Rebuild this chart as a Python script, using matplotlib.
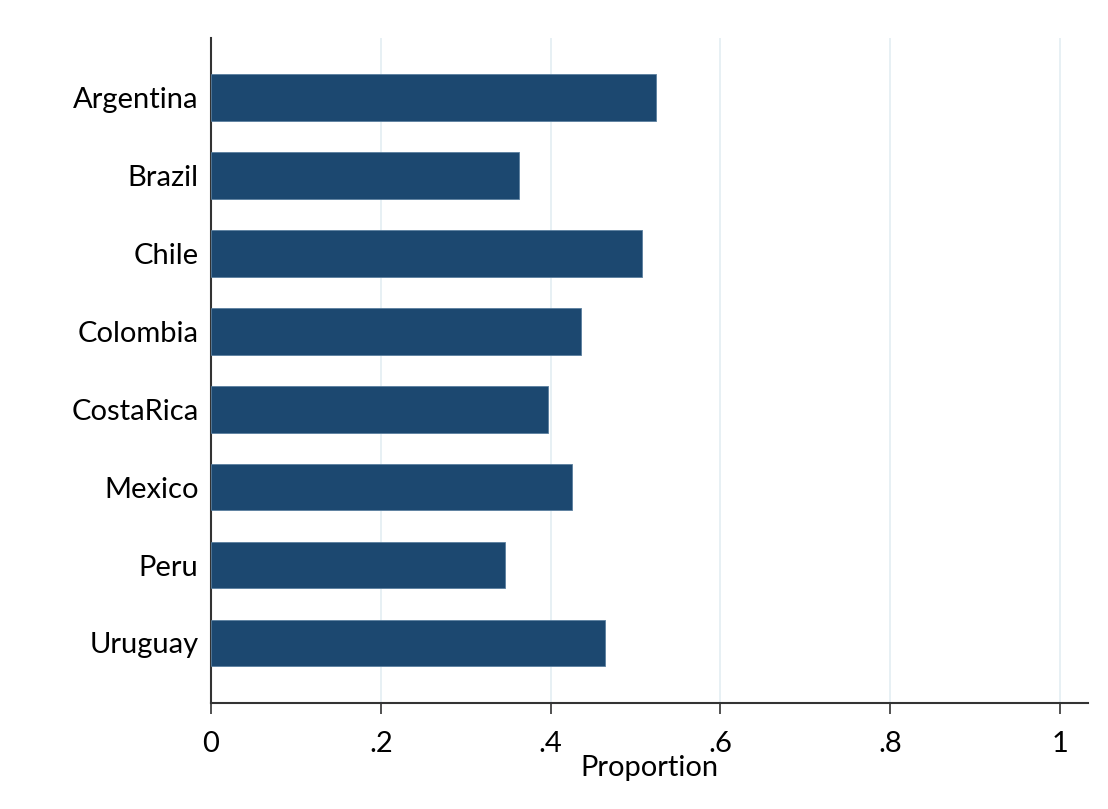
import numpy as np
import matplotlib
matplotlib.use('Agg')
import matplotlib.pyplot as plt

plt.rcParams['font.family'] = ['Lato', 'DejaVu Sans']

paises = ["Argentina", "Brazil", "Chile", "Colombia", "CostaRica", "Mexico", "Peru", "Uruguay"]
proporcion = [0.524, 0.363, 0.508, 0.436, 0.397, 0.425, 0.346, 0.464]
xticks = [0, 0.2, 0.4, 0.6, 0.8, 1]
xlabels = ["0", ".2", ".4", ".6", ".8", "1"]

fig = plt.figure(figsize=(11.08, 8.09), dpi=100)
ax = fig.add_axes([0.1904, 0.131, 0.7916, 0.822])

y = np.arange(len(paises))
ax.barh(y, proporcion, height=0.6, color='#1c4870', edgecolor='#5a7f9f', linewidth=0.6, zorder=3)

ax.set_ylim(len(paises) - 1 + 0.77, -0.76)
ax.set_xlim(0, 1.033)
ax.set_yticks(y)
ax.set_yticklabels(paises, fontsize=21)
ax.tick_params(axis='y', length=0, pad=9)
ax.set_xticks(xticks)
ax.set_xticklabels(xlabels, fontsize=21)
ax.tick_params(axis='x', length=8, width=1.2, pad=12, color='#333333')
ax.grid(axis='x', color='#e3eef2', linewidth=1.2, zorder=0)

for s in ['top', 'right']:
    ax.spines[s].set_visible(False)
ax.spines['left'].set_linewidth(1.5)
ax.spines['bottom'].set_linewidth(1.5)
ax.spines['left'].set_color('#333333')
ax.spines['bottom'].set_color('#333333')

ax.set_xlabel("Proportion", fontsize=21, labelpad=-1)

plt.savefig("out.png", dpi=100)
